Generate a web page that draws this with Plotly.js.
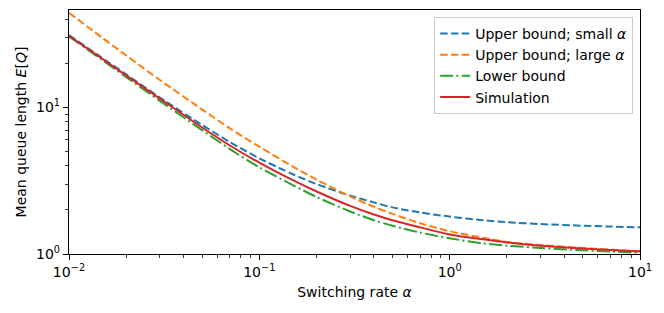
<!DOCTYPE html>
<html>
<head>
<meta charset="utf-8">
<script src="https://cdn.plot.ly/plotly-3.0.1.min.js"></script>
<style>html,body{margin:0;padding:0;background:#fff;}#chart{width:664px;height:313px;}</style>
</head>
<body>
<div id="chart"></div>
<script>
// Switching rate alpha (x values)
const alpha = [0.01, 0.015, 0.02, 0.03, 0.05, 0.07, 0.1, 0.15, 0.2, 0.3, 0.4, 0.5, 0.7, 1, 1.5, 2, 3, 5, 7, 10];
// Mean queue length estimates
const upperSmall = [31.2, 21.7, 16.8, 11.7, 7.6, 5.8, 4.5, 3.5, 3.0, 2.5, 2.25, 2.08, 1.92, 1.8, 1.7, 1.65, 1.6, 1.56, 1.54, 1.52];
const upperLarge = [44.3, 29.8, 22.6, 15.4, 9.7, 7.2, 5.4, 3.95, 3.22, 2.47, 2.1, 1.88, 1.62, 1.43, 1.29, 1.21, 1.15, 1.1, 1.07, 1.045];
const lowerBound = [30.5, 21.0, 16.1, 11.1, 7.0, 5.2, 3.9, 2.95, 2.45, 1.95, 1.7, 1.56, 1.4, 1.28, 1.18, 1.14, 1.1, 1.06, 1.04, 1.02];
const simulation = [30.8, 21.4, 16.5, 11.5, 7.3, 5.5, 4.2, 3.19, 2.67, 2.13, 1.86, 1.70, 1.52, 1.36, 1.26, 1.2, 1.14, 1.09, 1.065, 1.04];

const seriesNames = ['Upper bound; small <i>α</i>', 'Upper bound; large <i>α</i>', 'Lower bound', 'Simulation'];

const xTickVals = [0.01, 0.1, 1, 10];
const xTickText = ['10<sup>−2</sup>', '10<sup>−1</sup>', '10<sup>0</sup>', '10<sup>1</sup>'];
const yTickVals = [1, 10];
const yTickText = ['10<sup>0</sup>', '10<sup>1</sup>'];

const xMinor = [];
[0.01, 0.1, 1].forEach(d => { for (let k = 2; k <= 9; k++) xMinor.push(d * k); });
const yMinor = [];
[1, 10].forEach(d => { for (let k = 2; k <= 9; k++) yMinor.push(d * k); });

const colors = ['#1f77b4', '#ff7f0e', '#2ca02c', '#d62728'];
const dashes = ['7.5px,3.3px', '7.5px,3.3px', '13px,3.3px,2px,3.3px', 'solid'];
const ys = [upperSmall, upperLarge, lowerBound, simulation];

const traces = ys.map((y, i) => ({
  x: alpha, y: y, type: 'scatter', mode: 'lines', name: seriesNames[i],
  line: {color: colors[i], width: 2, dash: dashes[i], shape: 'spline', smoothing: 0.8},
  hoverinfo: 'skip'
}));

const fontFam = 'DejaVu Sans, sans-serif';
const layout = {
  width: 664, height: 313,
  margin: {l: 69, r: 24, t: 10, b: 59},
  paper_bgcolor: '#fff', plot_bgcolor: '#fff',
  font: {family: fontFam, size: 14, color: '#000'},
  showlegend: true,
  legend: {
    x: 0.988, xanchor: 'right', y: 0.972, yanchor: 'top',
    bgcolor: 'rgba(255,255,255,0.8)', bordercolor: '#cccccc', borderwidth: 1,
    font: {family: fontFam, size: 14, color: '#000'},
    tracegroupgap: 0, itemwidth: 30
  },
  xaxis: {
    type: 'log', range: [-2, 1],
    tickmode: 'array', tickvals: xTickVals, ticktext: xTickText,
    ticks: 'outside', ticklen: 5, tickwidth: 1, tickcolor: '#000',
    minor: {tickmode: 'array', tickvals: xMinor, ticks: 'outside', ticklen: 3, tickwidth: 0.8, tickcolor: '#000', showgrid: false},
    showline: true, linecolor: '#000', linewidth: 1.1, mirror: true,
    showgrid: false, zeroline: false,
    tickfont: {family: fontFam, size: 14, color: '#000'},
    title: {text: 'Switching rate <i>α</i>', font: {family: fontFam, size: 14, color: '#000'}, standoff: 8}
  },
  yaxis: {
    type: 'log', range: [0, 1.665],
    tickmode: 'array', tickvals: yTickVals, ticktext: yTickText,
    ticks: 'outside', ticklen: 5, tickwidth: 1, tickcolor: '#000',
    minor: {tickmode: 'array', tickvals: yMinor, ticks: 'outside', ticklen: 3, tickwidth: 0.8, tickcolor: '#000', showgrid: false},
    showline: true, linecolor: '#000', linewidth: 1.1, mirror: true,
    showgrid: false, zeroline: false,
    tickfont: {family: fontFam, size: 14, color: '#000'},
    title: {text: 'Mean queue length <i>E</i>[<i>Q</i>]', font: {family: fontFam, size: 14, color: '#000'}, standoff: 6}
  }
};

Plotly.newPlot('chart', traces, layout, {displayModeBar: false, staticPlot: true});
</script>
</body>
</html>
